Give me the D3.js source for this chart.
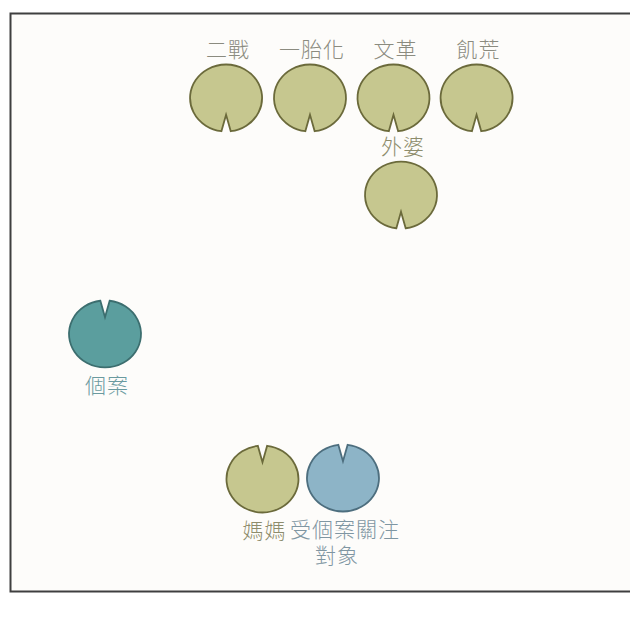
<!DOCTYPE html>
<html>
<head>
<meta charset="utf-8">
<script src="https://cdn.jsdelivr.net/npm/d3@7"></script>
<style>
  html, body { margin: 0; padding: 0; background: #ffffff; }
  svg { display: block; }
</style>
</head>
<body>
<svg id="chart" width="630" height="627"></svg>
<script>
// ---- data ----
const nodeNames  = ["二戰", "一胎化", "文革", "飢荒", "外婆", "個案", "媽媽", "受個案關注對象"];
const labelLines = [["二戰"], ["一胎化"], ["文革"], ["飢荒"], ["外婆"], ["個案"], ["媽媽"], ["受個案關注", "對象"]];
const nodeGroups = ["context", "context", "context", "context", "family", "self", "family", "other"];
// layout coordinates (grid units)
const nodeCol    = [1.45, 2.455, 3.455, 4.45, 3.545, 0, 1.886, 2.85];
const nodeRow    = [0, 0, 0, 0, 1.162, 2.826, 4.563, 4.551];
const notchSide  = ["down", "down", "down", "down", "down", "up", "up", "up"];
const labelSide  = ["above", "above", "above", "above", "above", "below", "below", "below"];

const groupNames = ["context", "family", "self", "other"];
const groupFill  = ["#c6c78f", "#c6c78f", "#5b9e9e", "#8db4c7"];
const groupStroke= ["#6b6a3b", "#6b6a3b", "#3c6e6f", "#4d6e7e"];
const groupText  = ["#8b8b7f", "#8d8c6c", "#6a9a9f", "#7f96a2"];

// ---- scales ----
const x = d3.scaleLinear().domain([0, 1]).range([105, 188.5]);
const y = d3.scaleLinear().domain([0, 1]).range([98, 181.5]);
const fillScale   = d3.scaleOrdinal().domain(groupNames).range(groupFill);
const strokeScale = d3.scaleOrdinal().domain(groupNames).range(groupStroke);
const textScale   = d3.scaleOrdinal().domain(groupNames).range(groupText);

const nodes = nodeNames.map((n, i) => ({
  name: n, lines: labelLines[i], group: nodeGroups[i],
  cx: x(nodeCol[i]), cy: y(nodeRow[i]), notch: notchSide[i], label: labelSide[i]
}));

const svg = d3.select("#chart");

// frame
svg.append("rect")
  .attr("x", 10.5).attr("y", 13.5)
  .attr("width", 640).attr("height", 578)
  .attr("fill", "#fdfcfa")
  .attr("stroke", "#3f3f3f")
  .attr("stroke-width", 2);

// node shape: ellipse with a V-shaped notch
const RX = 36, RY = 33.5, HALF = 0.13, DEPTH = 0.5;
function notchPath(d) {
  const th = d.notch === "down" ? Math.PI / 2 : -Math.PI / 2;
  const pt = a => [d.cx + RX * Math.cos(a), d.cy + RY * Math.sin(a)];
  const s = pt(th + HALF), e = pt(th - HALF);
  const apex = [d.cx + RX * DEPTH * Math.cos(th), d.cy + RY * DEPTH * Math.sin(th)];
  const p = d3.path();
  p.moveTo(apex[0], apex[1]);
  p.lineTo(s[0], s[1]);
  return p.toString() +
    `A${RX},${RY} 0 1 1 ${e[0]},${e[1]}Z`;
}

const g = svg.append("g").selectAll("g.node").data(nodes).join("g").attr("class", "node");

g.append("path")
  .attr("d", notchPath)
  .attr("fill", d => fillScale(d.group))
  .attr("stroke", d => strokeScale(d.group))
  .attr("stroke-width", 1.8)
  .attr("stroke-linejoin", "miter");

g.each(function(d) {
  const t = d3.select(this).append("text")
    .attr("font-family", "'Noto Sans CJK TC', 'Noto Sans CJK SC', sans-serif")
    .attr("font-size", 21)
    .attr("font-weight", 300)
    .attr("letter-spacing", 1)
    .attr("text-anchor", "middle")
    .attr("fill", textScale(d.group));
  const baseY = d.label === "above" ? d.cy - 41 : d.cy + 59;
  d.lines.forEach((ln, k) => {
    t.append("tspan")
      .attr("x", d.cx + (k === 0 ? 2 : -6))
      .attr("y", baseY + k * 26)
      .text(ln);
  });
});
</script>
</body>
</html>
